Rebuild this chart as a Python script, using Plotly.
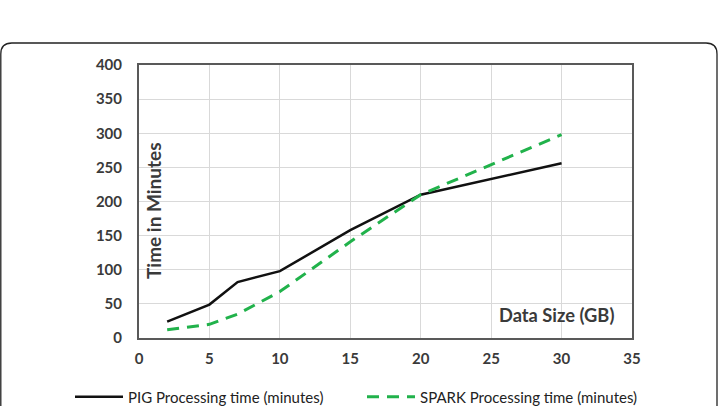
import plotly.graph_objects as go

data_size = [2, 5, 7, 10, 15, 20, 30]
pig_time = [24, 49, 82, 98, 158, 210, 256]
spark_time = [12, 20, 35, 68, 141, 210, 298]

x_ticks = [0, 5, 10, 15, 20, 25, 30, 35]
y_ticks = [0, 50, 100, 150, 200, 250, 300, 350, 400]

FONT = "Lato"
TXT = "#3a3a3a"

W, H = 723, 406
L, R, T, B = 139, 91, 65, 68
pw, ph = W - L - R, H - T - B

fig = go.Figure()
fig.add_trace(go.Scatter(
    x=data_size, y=pig_time, mode="lines",
    name="PIG Processing time (minutes)",
    line=dict(color="#111111", width=2.5),
    legend="legend",
))
fig.add_trace(go.Scatter(
    x=data_size, y=spark_time, mode="lines",
    name="SPARK Processing time (minutes)",
    line=dict(color="#21b24b", width=3, dash="12px,8px"),
    legend="legend2",
))


def px(x):
    return (x - L) / pw


def py(y):
    return (H - B - y) / ph


# outer rounded frame
x0, x1, y0, y1 = px(0.8), px(717), py(43), py(420)
rx, ry = 11 / pw, 11 / ph
path = (f"M {x0+rx},{y0} L {x1-rx},{y0} Q {x1},{y0} {x1},{y0-ry} "
        f"L {x1},{y1} L {x0},{y1} L {x0},{y0-ry} Q {x0},{y0} {x0+rx},{y0} Z")
fig.add_shape(type="path", path=path, xref="paper", yref="paper",
              line=dict(color="#222222", width=1.3), fillcolor="rgba(0,0,0,0)",
              layer="below")

fig.add_annotation(text="<b>Time in Minutes</b>", x=px(153), y=py(211),
                   xref="paper", yref="paper", textangle=-90, showarrow=False,
                   xanchor="center", yanchor="middle",
                   font=dict(family=FONT, size=19, color=TXT))
fig.add_annotation(text="<b>Data Size (GB)</b>", x=px(556), y=py(315),
                   xref="paper", yref="paper", showarrow=False,
                   xanchor="center", yanchor="middle",
                   font=dict(family=FONT, size=18.3, color=TXT))

leg_common = dict(orientation="h", xref="container", yref="container",
                  xanchor="left", yanchor="middle", y=1 - 397 / H,
                  font=dict(family=FONT, size=15, color="#222222"),
                  bgcolor="rgba(0,0,0,0)", itemwidth=48)

fig.update_layout(
    width=W, height=H,
    margin=dict(l=L, r=R, t=T, b=B, autoexpand=False),
    paper_bgcolor="white", plot_bgcolor="white",
    font=dict(family=FONT, color=TXT),
    showlegend=True,
    legend=dict(x=70 / W, **leg_common),
    legend2=dict(x=362 / W, **leg_common),
)
fig.update_xaxes(range=[0, 35], tickvals=x_ticks, showgrid=True, gridcolor="#d9d9d9",
                 gridwidth=1, zeroline=False, showline=True, mirror=True,
                 linecolor="#595959", linewidth=2, ticks="", automargin=False,
                 tickfont=dict(family=FONT, size=15, color=TXT, weight="bold"),
                 ticklabelstandoff=6)
fig.update_yaxes(range=[0, 400], tickvals=y_ticks, showgrid=True, gridcolor="#d9d9d9",
                 gridwidth=1, zeroline=False, showline=True, mirror=True,
                 linecolor="#595959", linewidth=2, ticks="", automargin=False,
                 tickfont=dict(family=FONT, size=15, color=TXT, weight="bold"),
                 ticklabelstandoff=12)

fig.write_html("out.html")
